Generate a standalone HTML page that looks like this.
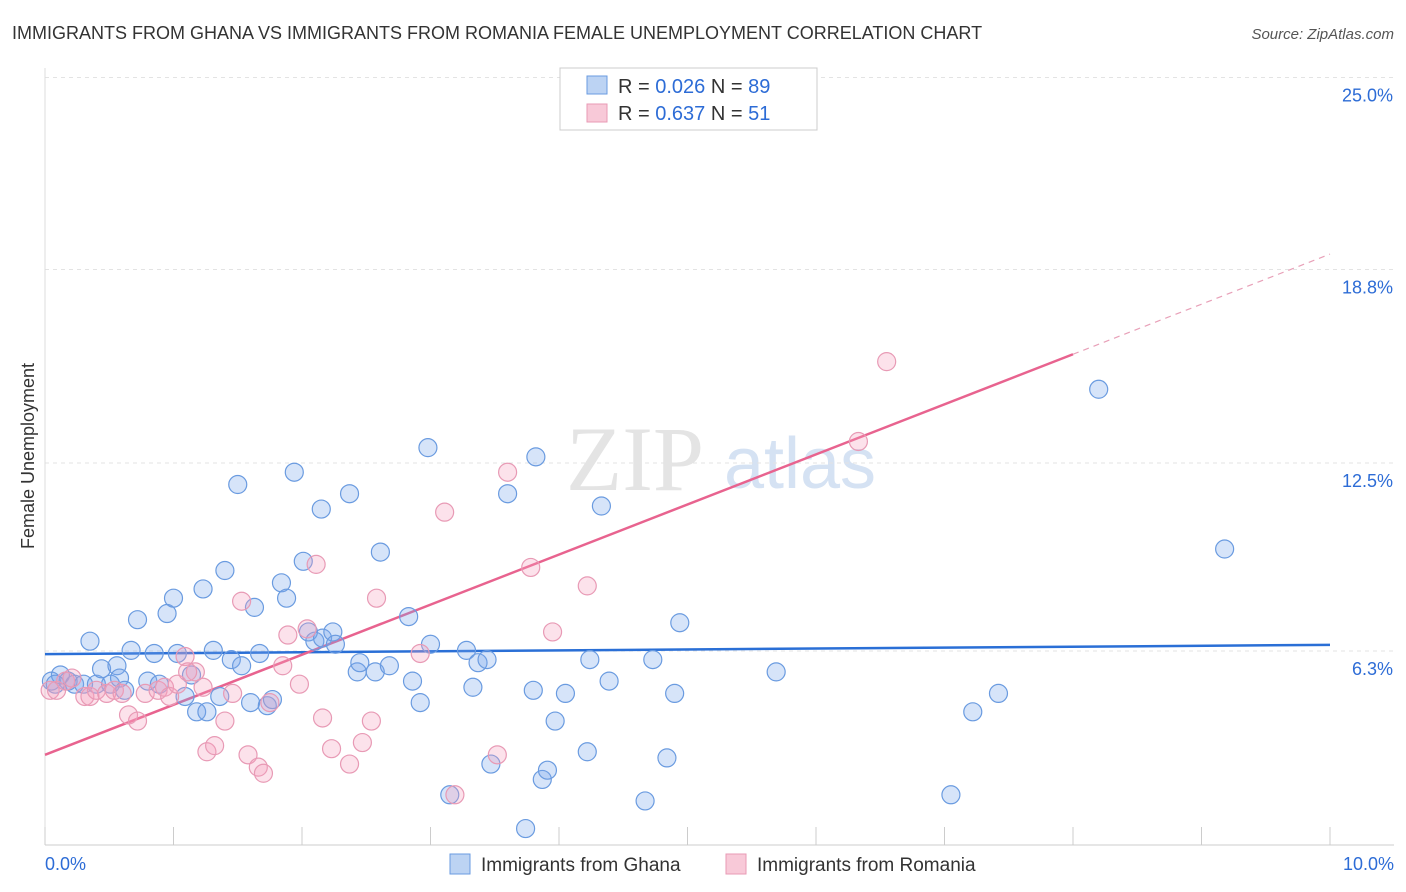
<!DOCTYPE html>
<html><head><meta charset="utf-8"><style>
body{margin:0;background:#fff;font-family:"Liberation Sans",sans-serif;}
#wrap{position:relative;width:1406px;height:892px;overflow:hidden;}
</style></head><body>
<div id="wrap">
<svg id="chart" width="1406" height="892" xmlns="http://www.w3.org/2000/svg">
<text x="12" y="39" font-size="18" fill="#333">IMMIGRANTS FROM GHANA VS IMMIGRANTS FROM ROMANIA FEMALE UNEMPLOYMENT CORRELATION CHART</text>
<text x="1394" y="39" font-size="15" fill="#555" font-style="italic" text-anchor="end">Source: ZipAtlas.com</text>
<text x="34" y="456" font-size="18" fill="#333" text-anchor="middle" transform="rotate(-90 34 456)">Female Unemployment</text>
<g><text x="635" y="490" font-size="92" fill="#e4e4e4" text-anchor="middle" font-family="Liberation Serif,serif">ZIP</text><text x="800" y="488" font-size="72" fill="#d5e2f3" text-anchor="middle">atlas</text></g>
<g id="grid"></g><g id="axes"></g><g id="lines"></g><g id="pts"></g>
<g>
<rect x="560" y="68" width="257" height="62" fill="#fff" stroke="#ccc"/>
<rect x="587" y="76" width="20" height="18" fill="#bcd3f3" stroke="#6a9be0"/>
<text x="618" y="93" font-size="20" fill="#333">R = <tspan fill="#2d6cd6">0.026</tspan>    N = <tspan fill="#2d6cd6">89</tspan></text>
<rect x="587" y="104" width="20" height="18" fill="#f8c9d8" stroke="#e89ab5"/>
<text x="618" y="120" font-size="20" fill="#333">R = <tspan fill="#2d6cd6">0.637</tspan>    N = <tspan fill="#2d6cd6">51</tspan></text>
</g>
<g>
<rect x="450" y="854" width="20" height="20" fill="#bcd3f3" stroke="#6a9be0"/>
<text x="481" y="871" font-size="19" fill="#333">Immigrants from Ghana</text>
<rect x="726" y="854" width="20" height="20" fill="#f8c9d8" stroke="#e89ab5"/>
<text x="757" y="871" font-size="19" fill="#333">Immigrants from Romania</text>
</g>
</svg></div>
<script>
const yTicks=[6.3,12.5,18.8,25.0];
const xTickLabels=["0.0%","10.0%"];
const ghanaX=[0.05,0.12,0.18,0.23,0.30,0.35,0.40,0.44,0.51,0.56,0.58,0.62,0.67,0.72,0.80,0.85,0.89,0.95,1.00,1.03,1.09,1.14,1.18,1.23,1.26,1.31,1.36,1.40,1.45,1.50,1.53,1.60,1.63,1.67,1.73,1.77,1.84,1.88,1.94,2.01,2.05,2.10,2.15,2.16,2.24,2.26,2.37,2.43,2.45,2.57,2.61,2.68,2.83,2.86,2.92,2.98,3.00,3.15,3.28,3.33,3.37,3.44,3.47,3.60,3.74,3.80,3.82,3.87,3.91,3.97,4.05,4.22,4.24,4.33,4.39,4.67,4.73,4.84,4.90,4.94,5.69,7.05,7.22,7.42,8.20,9.18,0.08];
const ghanaY=[5.4,5.6,5.4,5.3,5.3,6.7,5.3,5.8,5.3,5.9,5.5,5.1,6.4,7.4,5.4,6.3,5.3,7.6,8.1,6.3,4.9,5.6,4.4,8.4,4.4,6.4,4.9,9.0,6.1,11.8,5.9,4.7,7.8,6.3,4.6,4.8,8.6,8.1,12.2,9.3,7.0,6.7,11.0,6.8,7.0,6.6,11.5,5.7,6.0,5.7,9.6,5.9,7.5,5.4,4.7,13.0,6.6,1.7,6.4,5.2,6.0,6.1,2.7,11.5,0.6,5.1,12.7,2.2,2.5,4.1,5.0,3.1,6.1,11.1,5.4,1.5,6.1,2.9,5.0,7.3,5.7,1.7,4.4,5.0,14.9,9.7,5.3];
const romaniaX=[0.04,0.09,0.16,0.21,0.31,0.35,0.40,0.48,0.54,0.60,0.65,0.72,0.78,0.88,0.93,0.97,1.03,1.09,1.17,1.23,1.26,1.32,1.40,1.46,1.53,1.58,1.66,1.70,1.75,1.85,1.89,1.98,2.04,2.11,2.16,2.23,2.37,2.47,2.54,2.58,2.92,3.11,3.19,3.52,3.60,3.78,3.95,4.22,6.33,6.55,1.11];
const romaniaY=[5.1,5.1,5.4,5.5,4.9,4.9,5.1,5.0,5.1,5.0,4.3,4.1,5.0,5.1,5.2,4.9,5.3,6.2,5.7,5.2,3.1,3.3,4.1,5.0,8.0,3.0,2.6,2.4,4.7,5.9,6.9,5.3,7.1,9.2,4.2,3.2,2.7,3.4,4.1,8.1,6.3,10.9,1.7,3.0,12.2,9.1,7.0,8.5,13.2,15.8,5.7];
const ghanaTrend=[6.28,6.58];
const romaniaTrend=[3.0,19.3];
const trendSolidEnd=8.0;
const NS="http://www.w3.org/2000/svg";
const X=v=>45+v*128.5, Y=v=>847-v*30.72;
function mk(tag,attrs,parent){const e=document.createElementNS(NS,tag);for(const k in attrs)e.setAttribute(k,attrs[k]);document.getElementById(parent).appendChild(e);return e;}
yTicks.forEach(t=>{
 const l=mk('line',{x1:45,x2:1394,y1:Y(t)+(t==25?-1.5:(t==6.3?-2.5:0)),y2:Y(t)+(t==25?-1.5:(t==6.3?-2.5:0)),stroke:'#e3e3e3','stroke-dasharray':'4,4'},'grid');
 
 
 const tx=mk('text',{x:1393,y:Y(t)+(t==25?-1.5:(t==6.3?-2.5:0))+24,'font-size':18,fill:'#2d6cd6','text-anchor':'end'},'axes');
 tx.textContent=t.toFixed(1)+'%';
 
 
});
const ax=mk('line',{x1:45,x2:1394,y1:845,y2:845,stroke:'#ccc'},'axes');


const ay=mk('line',{x1:45,x2:45,y1:68,y2:845,stroke:'#ddd'},'axes');


for(let i=0;i<=10;i++){const t=mk('line',{x1:X(i),x2:X(i),y1:827,y2:845,stroke:'#ccc'},'axes');
 
 }
[[0,45,'start'],[10,1394,'end']].forEach((d,i)=>{const t=mk('text',{x:d[1],y:870,'font-size':18,fill:'#2d6cd6','text-anchor':d[2]},'axes');t.textContent=xTickLabels[i];
 
 });
function drawPts(xs,ys,fill,stroke,name){xs.forEach((x,i)=>{const c=mk('circle',{cx:X(x),cy:Y(ys[i]),r:9,fill:fill,stroke:stroke,'stroke-width':1.2},'pts');
 
 });}
drawPts(ghanaX,ghanaY,'rgba(120,165,235,0.3)','#6a9be0','ghana-point');
drawPts(romaniaX,romaniaY,'rgba(245,160,190,0.3)','#e89ab5','romania-point');
const gl=mk('line',{x1:X(0),y1:Y(ghanaTrend[0]),x2:X(10),y2:Y(ghanaTrend[1]),stroke:'#2a6fd6','stroke-width':2.5},'lines');


const rv=x=>romaniaTrend[0]+(romaniaTrend[1]-romaniaTrend[0])*x/10;
const rl=mk('line',{x1:X(0),y1:Y(rv(0)),x2:X(trendSolidEnd),y2:Y(rv(trendSolidEnd)),stroke:'#e8638f','stroke-width':2.5},'lines');


const rd=mk('line',{x1:X(trendSolidEnd),y1:Y(rv(trendSolidEnd)),x2:X(10),y2:Y(rv(10)),stroke:'#e8a0b8','stroke-width':1.2,'stroke-dasharray':'6,5'},'lines');


</script>
</body></html>
